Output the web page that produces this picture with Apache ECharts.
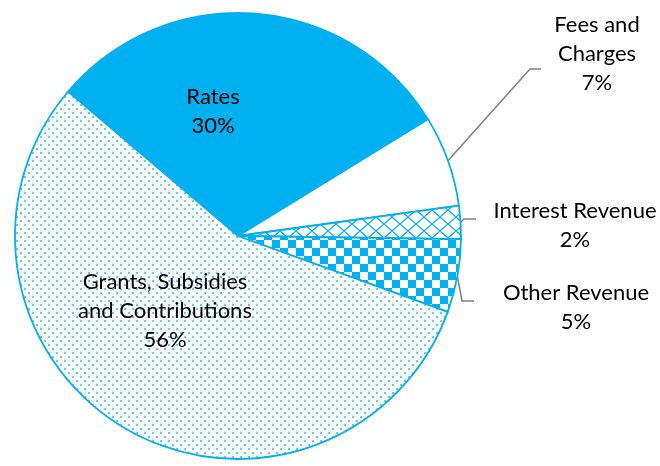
<!DOCTYPE html>
<html><head><meta charset="utf-8">
<script src="https://cdn.jsdelivr.net/npm/echarts@6/dist/echarts.min.js"></script>
<style>html,body{margin:0;padding:0;background:#fff}#c{width:660px;height:466px}</style>
</head><body><div id="c"></div>
<script>
// ---- data ----
const categories = ['Rates', 'Fees and\nCharges', 'Interest Revenue', 'Other Revenue', 'Grants, Subsidies\nand Contributions'];
const values = [30.0, 6.6, 2.4, 5.3, 55.7];

// ---- styling ----
const BLUE = '#00B0F0';
function makeCanvas(w, h, draw) {
  const c = document.createElement('canvas');
  c.width = w; c.height = h;
  const ctx = c.getContext('2d');
  ctx.fillStyle = '#fff'; ctx.fillRect(0, 0, w, h);
  draw(ctx, w, h);
  return c;
}
const dots = makeCanvas(8, 8, (ctx) => {
  ctx.fillStyle = BLUE;
  ctx.fillRect(0.25, 0.25, 1.6, 1.6);
  ctx.fillRect(4.25, 4.25, 1.6, 1.6);
});
const checker = makeCanvas(16, 16, (ctx) => {
  ctx.fillStyle = BLUE;
  ctx.fillRect(0, 0, 8, 8);
  ctx.fillRect(8, 8, 8, 8);
});
const cross = makeCanvas(16, 14, (ctx, w, h) => {
  ctx.strokeStyle = BLUE; ctx.lineWidth = 1.3;
  ctx.beginPath();
  ctx.moveTo(0, 0); ctx.lineTo(w, h);
  ctx.moveTo(w, 0); ctx.lineTo(0, h);
  ctx.stroke();
});
const fills = [
  BLUE,
  '#ffffff',
  { image: cross, repeat: 'repeat' },
  { image: checker, repeat: 'repeat' },
  { image: dots, repeat: 'repeat' }
];
const inside = [true, false, false, false, true];
// label anchor (centre of text block) and leader bend/end offsets relative to it
const labelPos = [[213, 111], [597, 54], [575, 225], [576, 307], [165, 311]];
const leader = [null, [-67, 15, -56, 15], [-111, -6, -99, -6], [-114, -6, -102, -6], null];

const CX = 238, CY = 236, R = 223, START = 139.6;
const total = values.reduce((a, b) => a + b, 0);
function edgePoint(i) {
  let before = 0;
  for (let k = 0; k < i; k++) before += values[k];
  const mid = START - (before + values[i] / 2) / total * 360;
  const a = mid * Math.PI / 180;
  return [CX + R * Math.cos(a), CY - R * Math.sin(a)];
}

const chart = echarts.init(document.getElementById('c'), null, { renderer: 'canvas' });
chart.setOption({
  animation: false,
  backgroundColor: '#fff',
  series: [{
    type: 'pie',
    center: [CX, CY],
    radius: R,
    startAngle: START,
    clockwise: true,
    avoidLabelOverlap: false,
    silent: true,
    data: categories.map((name, i) => ({
      name: name,
      value: values[i],
      itemStyle: { color: fills[i], borderColor: BLUE, borderWidth: 1.8 },
      label: { position: inside[i] ? 'inside' : 'outside' },
      labelLine: { show: !inside[i] }
    })),
    label: {
      show: true,
      formatter: (p) => p.name + '\n' + Math.round(p.percent) + '%',
      fontFamily: 'Lato',
      fontSize: 22,
      lineHeight: 29,
      color: '#000',
      align: 'center'
    },
    labelLine: {
      show: true,
      lineStyle: { color: '#7f7f7f', width: 1.5 }
    },
    labelLayout: function (params) {
      const i = params.dataIndex;
      const p = labelPos[i];
      const res = { x: p[0], y: p[1], align: 'center', verticalAlign: 'middle' };
      if (leader[i]) {
        const l = leader[i];
        const s = edgePoint(i);
        res.labelLinePoints = [s, [p[0] + l[0], p[1] + l[1]], [p[0] + l[2], p[1] + l[3]]];
      }
      return res;
    }
  }]
});
</script>
</body></html>
